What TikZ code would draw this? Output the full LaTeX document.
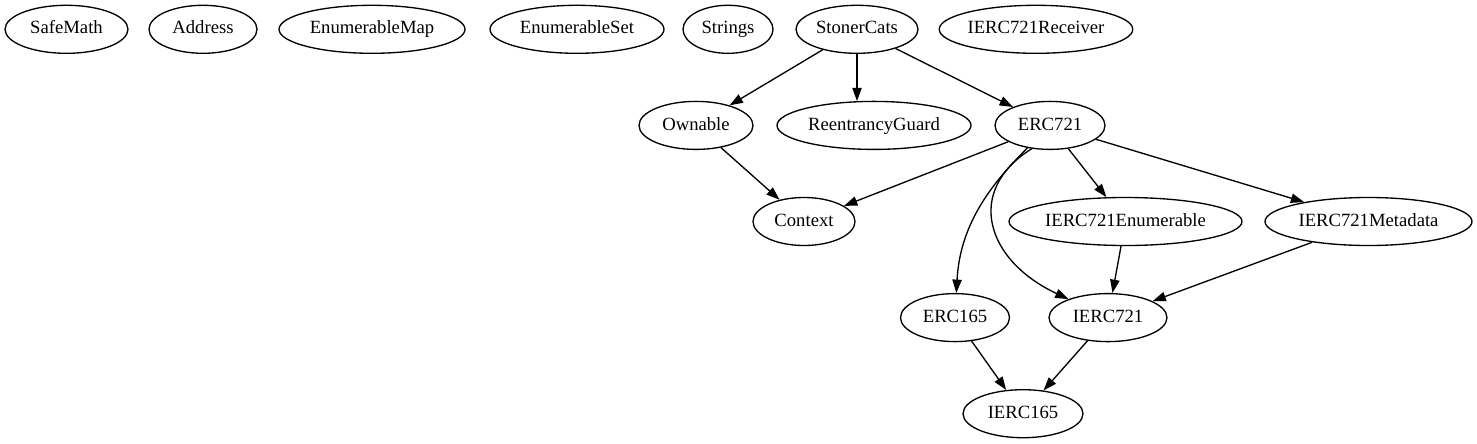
\documentclass[tikz,border=0pt]{standalone}
\usepackage{fontspec}
\setmainfont{Liberation Serif}
\usetikzlibrary{shapes.geometric,arrows.meta}
\tikzset{
  gv/.style={draw, ellipse, line width=1pt, inner sep=0pt, minimum height=36pt,
    minimum width=#1*0.75pt, text height=10pt, text depth=3pt,
    font=\fontsize{14pt}{16pt}\selectfont},
  arr/.style={line width=1pt, -{Triangle[length=10pt,width=7pt]}}
}
\begin{document}
\begin{tikzpicture}[x=0.75pt,y=-0.75pt]
\useasboundingbox (0,0) rectangle (1477,443);
% row 1
\node[gv=123] (safemath) at (66.5,29.3) {SafeMath};
\node[gv=108] (address) at (203,29.3) {Address};
\node[gv=186] (enummap) at (372,29.3) {EnumerableMap};
\node[gv=174] (enumset) at (577,29.3) {EnumerableSet};
\node[gv=90] (strings) at (728,29.3) {Strings};
\node[gv=122] (stoner) at (857,29.3) {StonerCats};
\node[gv=186] (receiver) at (1036,29.3) {IERC721Receiver};
% row 2
\node[gv=114] (ownable) at (696,125.4) {Ownable};
\node[gv=194] (reentrancy) at (874,125.4) {ReentrancyGuard};
\node[gv=110] (erc721) at (1050,125.4) {ERC721};
% row 3
\node[gv=102] (context) at (804,221.5) {Context};
\node[gv=233] (enumerable) at (1125.5,221.5) {IERC721Enumerable};
\node[gv=207] (metadata) at (1368.5,221.5) {IERC721Metadata};
% row 4
\node[gv=109] (erc165) at (955,317.6) {ERC165};
\node[gv=118] (ierc721) at (1108,317.6) {IERC721};
% row 5
\node[gv=120] (ierc165) at (1023,413.7) {IERC165};
% edges
\draw[arr] (stoner) -- (ownable);
\draw[arr] (stoner.south) -- ([yshift=-0.3pt]stoner.south |- reentrancy.north);
\draw[arr] (stoner) -- (erc721);
\draw[arr] (ownable) -- (context);
\draw[arr] (erc721) -- (context);
\draw[arr] (erc721) -- (enumerable);
\draw[arr] (erc721) -- (metadata);
\draw[arr] (erc721.225) .. controls (990,185) and (960,225) .. (erc165);
\draw[arr] (erc721.232) .. controls (965,190) and (985,260) .. (ierc721);
\draw[arr] (enumerable) -- (ierc721);
\draw[arr] (metadata) -- (ierc721);
\draw[arr] (erc165) -- (ierc165);
\draw[arr] (ierc721) -- (ierc165);
\end{tikzpicture}
\end{document}
